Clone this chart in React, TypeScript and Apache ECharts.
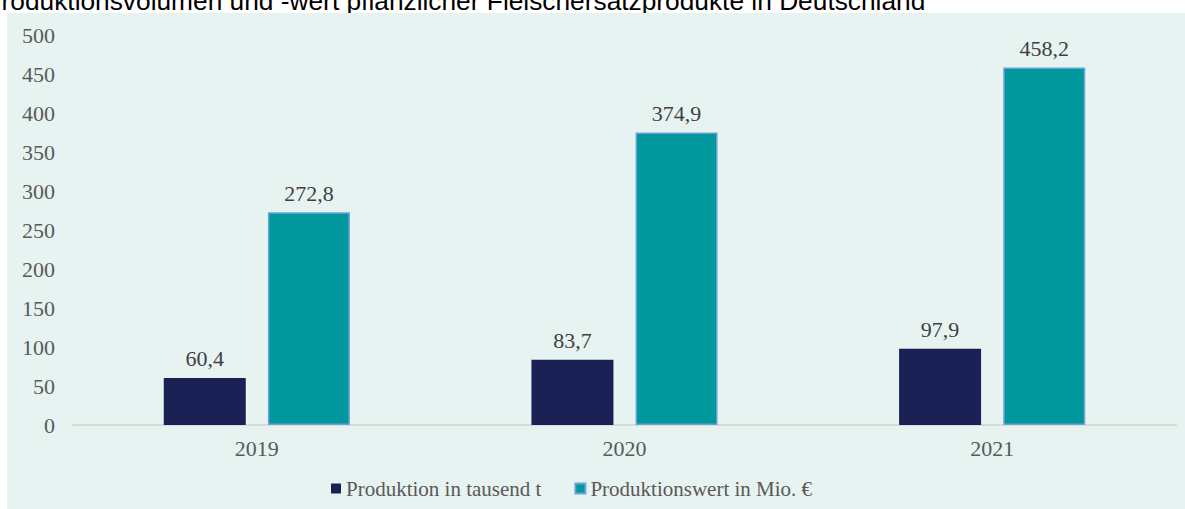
import React, { useEffect, useRef } from "react";
import * as echarts from "echarts";

const titleText = "Produktionsvolumen und -wert pflanzlicher Fleischersatzprodukte in Deutschland";
const categories = ["2019", "2020", "2021"];
const seriesNames = ["Produktion in tausend t", "Produktionswert in Mio. €"];
const produktion = [60.4, 83.7, 97.9];
const produktionswert = [272.8, 374.9, 458.2];

const SERIF = "'Liberation Serif', 'Times New Roman', serif";

export default function App() {
  const ref = useRef<HTMLDivElement>(null);
  useEffect(() => {
    document.body.style.margin = "0";
    if (!ref.current) return;
    const chart = echarts.init(ref.current, undefined, { renderer: "svg" });
    const fmt = (p: any) => String(p.value.toFixed(1)).replace(".", ",");
    chart.setOption({
      animation: false,
      backgroundColor: "#ffffff",
      graphic: [
        {
          type: "text",
          x: -16,
          y: 14,
          z: 1,
          style: {
            text: titleText,
            fill: "#000000",
            font: "26.3px 'Liberation Sans', Arial, sans-serif",
            textVerticalAlign: "bottom",
          },
        },
        {
          type: "rect",
          silent: true,
          z: 2,
          shape: { x: 7, y: 13, width: 1178, height: 496 },
          style: { fill: "#e7f3f1" },
        },
      ],
      grid: { left: 73, right: 9, top: 35, bottom: 84, containLabel: false },
      legend: {
        left: 326,
        top: 473,
        itemWidth: 10,
        itemHeight: 10,
        itemGap: 33,
        z: 5,
        textStyle: { fontFamily: SERIF, fontSize: 21, color: "#595959" },
        data: [
          { name: seriesNames[0], icon: "rect" },
          { name: seriesNames[1], icon: "rect" },
        ],
      },
      xAxis: {
        type: "category",
        data: categories,
        z: 5,
        axisLine: { lineStyle: { color: "#d9d9d9", width: 2 } },
        axisTick: { show: false },
        axisLabel: { fontFamily: SERIF, fontSize: 22, color: "#595959", margin: 12 },
      },
      yAxis: {
        type: "value",
        min: 0,
        max: 500,
        interval: 50,
        z: 5,
        axisLine: { show: false },
        axisTick: { show: false },
        splitLine: { show: false },
        axisLabel: { fontFamily: SERIF, fontSize: 22, color: "#595959", margin: 18 },
      },
      series: [
        {
          name: seriesNames[0],
          type: "bar",
          z: 5,
          data: produktion,
          barWidth: 82,
          barGap: "27%",
          itemStyle: { color: "#1a2155" },
          label: {
            show: true,
            position: "top",
            distance: 8,
            formatter: fmt,
            fontFamily: SERIF,
            fontSize: 22,
            color: "#404040",
          },
        },
        {
          name: seriesNames[1],
          type: "bar",
          z: 5,
          data: produktionswert,
          barWidth: 82,
          itemStyle: { color: "#00979d", borderColor: "#6aa3d8", borderWidth: 1.5 },
          label: {
            show: true,
            position: "top",
            distance: 8,
            formatter: fmt,
            fontFamily: SERIF,
            fontSize: 22,
            color: "#404040",
          },
        },
      ],
    });
    return () => chart.dispose();
  }, []);
  return <div ref={ref} style={{ width: 1185, height: 509 }} />;
}
